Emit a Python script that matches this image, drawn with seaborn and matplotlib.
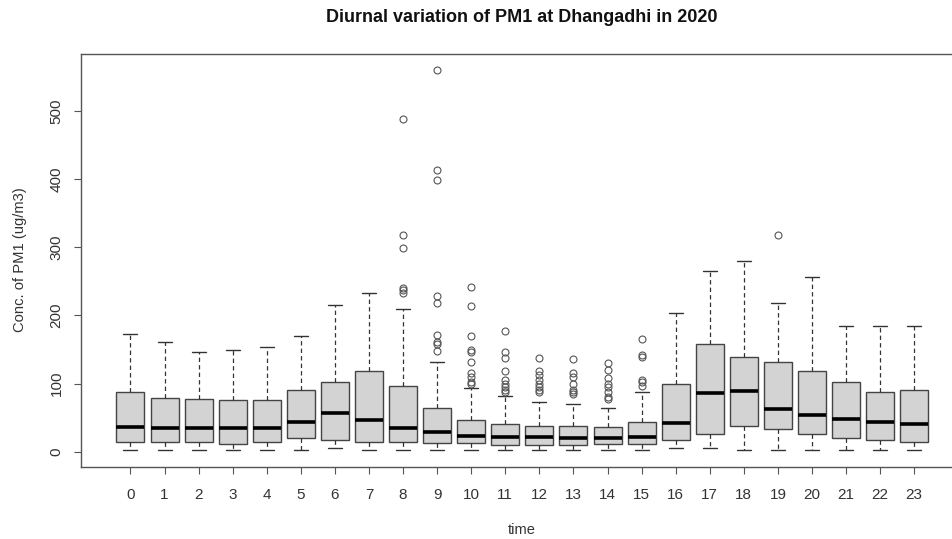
import numpy as np
import pandas as pd
import matplotlib
matplotlib.use("Agg")
import matplotlib.pyplot as plt
import seaborn as sns

# ---- data (five-number summaries + outliers per hour) ----
hours = [str(h) for h in range(24)]
whisker_low = [2.5, 2.5, 2.5, 2.5, 2.5, 2.5, 6, 2.5, 2.5, 2.5, 2.5, 2.5,
               2.5, 2.5, 2.5, 2.5, 6, 6, 2.5, 2.5, 2.5, 2.5, 2.5, 2.5]
q1 = [14, 14, 14, 11, 14, 19.6, 17, 14, 14, 12.3, 13.2, 9.8,
      9.8, 9.8, 10.8, 10.8, 17, 25.5, 38, 34, 25.5, 19.6, 17, 14]
median = [36, 35, 35, 35, 35, 43, 57, 46, 35, 28.4, 23.5, 22,
          22, 20.6, 20.6, 22, 41.6, 85.7, 89, 62.7, 54, 47.5, 44, 40]
q3 = [88, 79, 77, 75.4, 76, 91, 102.8, 119, 97, 64.6, 46.5, 40.7,
      38, 38, 35.8, 44, 99, 157.6, 139.5, 132, 118.5, 103, 88, 90.5]
whisker_high = [173, 161.5, 147, 150, 153, 170, 215, 232.5, 209, 132, 94, 82,
                72.5, 70, 64.6, 88, 203, 265, 280, 218.7, 256, 185, 185, 184]
outliers = {
    "8": [488, 318, 298.5, 241, 237, 233],
    "9": [561, 413.5, 399, 228.5, 218, 171, 161.5, 158, 148],
    "10": [242, 214, 170, 149, 147, 132, 115, 110, 103, 99],
    "11": [177, 147, 137, 119, 105, 100, 95, 90.5, 88],
    "12": [137, 119, 112.6, 105, 100, 95, 90.5, 87],
    "13": [135.6, 115, 110, 100, 90, 88, 85],
    "14": [129.7, 120, 107.7, 100, 95, 88, 80.7, 78],
    "15": [165, 142, 139.5, 105, 102, 96],
    "19": [318],
}

# Build a long-form table whose quartiles / whiskers reproduce the read statistics
rows = []
for i, h in enumerate(hours):
    vals = ([whisker_low[i]] + [q1[i]] * 20 + [median[i]] * 20 + [q3[i]] * 20
            + [whisker_high[i]] + outliers.get(h, []))
    rows += [(h, v) for v in vals]
df = pd.DataFrame(rows, columns=["time", "conc"])

sns.set_style("white")
plt.rcParams["font.family"] = ["Liberation Sans", "DejaVu Sans"]

W, H = 952, 539
fig = plt.figure(figsize=(W / 100, H / 100), dpi=100)
left, right, top, bottom = 80.7, 964.0, 53.9, 467.0
ax = fig.add_axes([left / W, (H - bottom) / H, (right - left) / W, (bottom - top) / H])

sns.boxplot(
    data=df, x="time", y="conc", order=hours, ax=ax,
    color="#D3D3D3", saturation=1, width=0.82, whis=1.5,
    linecolor="#333333", linewidth=1.0,
    boxprops=dict(edgecolor="#444444", linewidth=1.0),
    whiskerprops=dict(linestyle=(0, (3.5, 2.5)), color="#333333", linewidth=0.9),
    capprops=dict(color="#333333", linewidth=1.0),
    medianprops=dict(color="black", linewidth=2.6),
    flierprops=dict(marker="o", markerfacecolor="none", markeredgecolor="#555555",
                    markersize=5, markeredgewidth=0.8),
)

ax.set_xlim(-1.46, 24.46)
ax.set_ylim(-22.4, 583.9)
ax.set_yticks([0, 100, 200, 300, 400, 500])
ax.set_xlabel("")
ax.set_ylabel("")
for s in ax.spines.values():
    s.set_visible(True)
    s.set_color("#555555")
    s.set_linewidth(1.0)
ax.tick_params(axis="both", direction="out", length=5.3, width=0.8, color="#555555",
               labelsize=11, labelcolor="#333333")
ax.tick_params(axis="x", pad=9.5, bottom=True)
ax.tick_params(axis="y", pad=7, left=True)
for lab in ax.get_yticklabels():
    lab.set_rotation(90)
    lab.set_va("center")

fig.text(522 / W, 1 - 18 / H, "Diurnal variation of PM1 at Dhangadhi in 2020",
         ha="center", va="center", fontsize=13, fontweight="bold", color="#111111")
fig.text(522 / W, 1 - 530 / H, "time", ha="center", va="center", fontsize=10.5, color="#333333")
fig.text(20 / W, 1 - 260 / H, "Conc. of PM1 (ug/m3)", ha="center", va="center",
         rotation=90, fontsize=10.6, color="#333333")

fig.savefig("out.png", dpi=100)
